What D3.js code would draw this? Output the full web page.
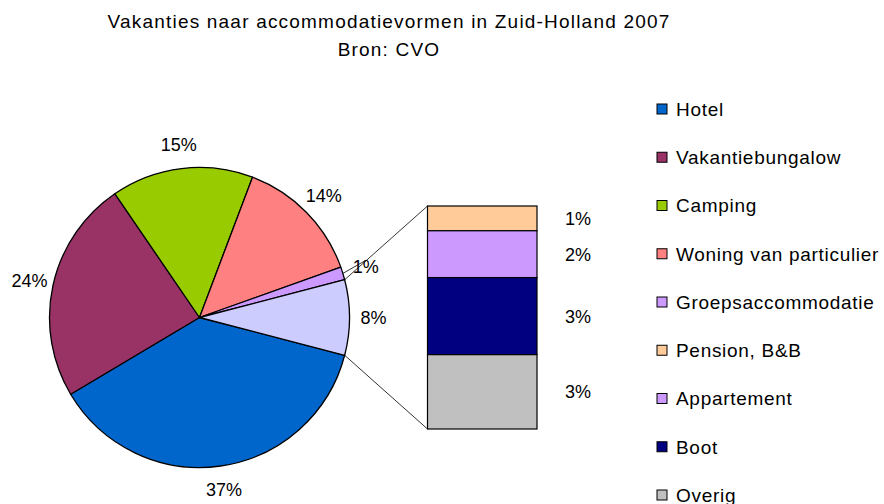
<!DOCTYPE html>
<html>
<head>
<meta charset="utf-8">
<script src="https://cdn.jsdelivr.net/npm/d3@7"></script>
<style>
  body { margin: 0; background: #fff; }
  text { font-family: "Liberation Sans", Arial, sans-serif; fill: #000; }
</style>
</head>
<body>
<div id="chart"></div>
<script>
// pie slices (last one is the "overig" slice that gets split into the bar)
var pieNames = ["Hotel", "Vakantiebungalow", "Camping", "Woning van particulier", "Groepsaccommodatie", "rest"]
var pieValues = [37.4, 24.0, 15.3, 13.8, 1.4, 8.1]
var pieColors = ["#0066CC", "#993366", "#99CC00", "#FF8080", "#CC99FF", "#CCCCFF"]

// bar of the small categories, top to bottom
var barNames = ["Pension, B&B", "Appartement", "Boot", "Overig"]
var barValues = [0.9, 1.7, 2.8, 2.7]
var barColors = ["#FFCC99", "#CC99FF", "#000080", "#C0C0C0"]

var legendNames = pieNames.slice(0, 5).concat(barNames)
var legendColors = pieColors.slice(0, 5).concat(barColors)

var width = 884, height = 504
var cx = 199.5, cy = 317.5, radius = 150

var svg = d3.select("#chart")
    .append("svg")
    .attr("width", width)
    .attr("height", height)

// title
svg.append("text")
    .attr("x", 389)
    .attr("y", 28)
    .attr("text-anchor", "middle")
    .style("font-size", "19px")
    .style("letter-spacing", "1.2px")
    .text("Vakanties naar accommodatievormen in Zuid-Holland 2007")
svg.append("text")
    .attr("x", 389)
    .attr("y", 56)
    .attr("text-anchor", "middle")
    .style("font-size", "19px")
    .style("letter-spacing", "1.2px")
    .text("Bron: CVO")

var total = d3.sum(pieValues)
var restFrac = pieValues[pieValues.length - 1] / total
var start = Math.PI / 2 + restFrac * Math.PI

var pie = d3.pie()
    .sort(null)
    .value(d => d)
    .startAngle(start)
    .endAngle(start + 2 * Math.PI)

var arcs = pie(pieValues)
var arc = d3.arc().innerRadius(0).outerRadius(radius)
var labelArc = d3.arc().innerRadius(174).outerRadius(174)

var g = svg.append("g")
    .attr("transform", "translate(" + cx + "," + cy + ")")

g.selectAll("path")
    .data(arcs)
    .enter()
    .append("path")
    .attr("d", arc)
    .attr("fill", (d, i) => pieColors[i])
    .attr("stroke", "#000")
    .attr("stroke-width", 1.3)
    .attr("stroke-linejoin", "round")

function polar(a, r) {
    return [Math.sin(a) * r, -Math.cos(a) * r]
}

// leader line for the small slice
var small = arcs[4]
var sMid = (small.startAngle + small.endAngle) / 2
var sp = polar(sMid, radius)
var lp = labelArc.centroid(small)
g.append("line")
    .attr("x1", sp[0]).attr("y1", sp[1])
    .attr("x2", lp[0]).attr("y2", lp[1] - 6)
    .attr("stroke", "#000")
    .attr("stroke-width", 0.8)

g.selectAll(".plabel")
    .data(arcs)
    .enter()
    .append("text")
    .attr("class", "plabel")
    .attr("transform", d => "translate(" + labelArc.centroid(d) + ")")
    .attr("dy", "0.36em")
    .attr("text-anchor", "middle")
    .style("font-size", "18px")
    .text(d => Math.round(d.value) + "%")

// bar of the rest
var barX = d3.scaleBand().domain(["rest"]).range([427.5, 537]).padding(0)
var barY = d3.scaleLinear()
    .domain([0, d3.sum(barValues)])
    .range([429, 206])

var stacked = []
var acc = 0
for (var i = barValues.length - 1; i >= 0; i--) {
    stacked[i] = {y0: acc, y1: acc + barValues[i], v: barValues[i]}
    acc += barValues[i]
}

// connector lines from the rest slice to the bar
var rest = arcs[arcs.length - 1]
var pTop = polar(rest.startAngle, radius)
var pBot = polar(rest.endAngle, radius)
svg.append("line")
    .attr("x1", cx + pTop[0]).attr("y1", cy + pTop[1])
    .attr("x2", barX("rest")).attr("y2", barY(acc))
    .attr("stroke", "#000")
    .attr("stroke-width", 0.8)
svg.append("line")
    .attr("x1", cx + pBot[0]).attr("y1", cy + pBot[1])
    .attr("x2", barX("rest")).attr("y2", barY(0))
    .attr("stroke", "#000")
    .attr("stroke-width", 0.8)

svg.append("g")
    .selectAll("rect")
    .data(stacked)
    .enter()
    .append("rect")
    .attr("x", barX("rest"))
    .attr("width", barX.bandwidth())
    .attr("y", d => barY(d.y1))
    .attr("height", d => barY(d.y0) - barY(d.y1))
    .attr("fill", (d, i) => barColors[i])
    .attr("stroke", "#000")
    .attr("stroke-width", 1.2)

svg.append("g")
    .selectAll("text")
    .data(stacked)
    .enter()
    .append("text")
    .attr("x", 578)
    .attr("y", d => (barY(d.y0) + barY(d.y1)) / 2)
    .attr("dy", "0.36em")
    .attr("text-anchor", "middle")
    .style("font-size", "18px")
    .text(d => Math.round(d.v) + "%")

// legend
var legY = d3.scalePoint()
    .domain(legendNames)
    .range([109, 495])

var leg = svg.append("g")
    .selectAll("g")
    .data(legendNames)
    .enter()
    .append("g")
    .attr("transform", d => "translate(657," + legY(d) + ")")

leg.append("rect")
    .attr("x", 0)
    .attr("y", -5)
    .attr("width", 10)
    .attr("height", 10)
    .attr("fill", (d, i) => legendColors[i])
    .attr("stroke", "#000")
    .attr("stroke-width", 1)

leg.append("text")
    .attr("x", 19)
    .attr("y", 0)
    .attr("dy", "0.36em")
    .style("font-size", "19px")
    .style("letter-spacing", "0.7px")
    .text(d => d)
</script>
</body>
</html>
